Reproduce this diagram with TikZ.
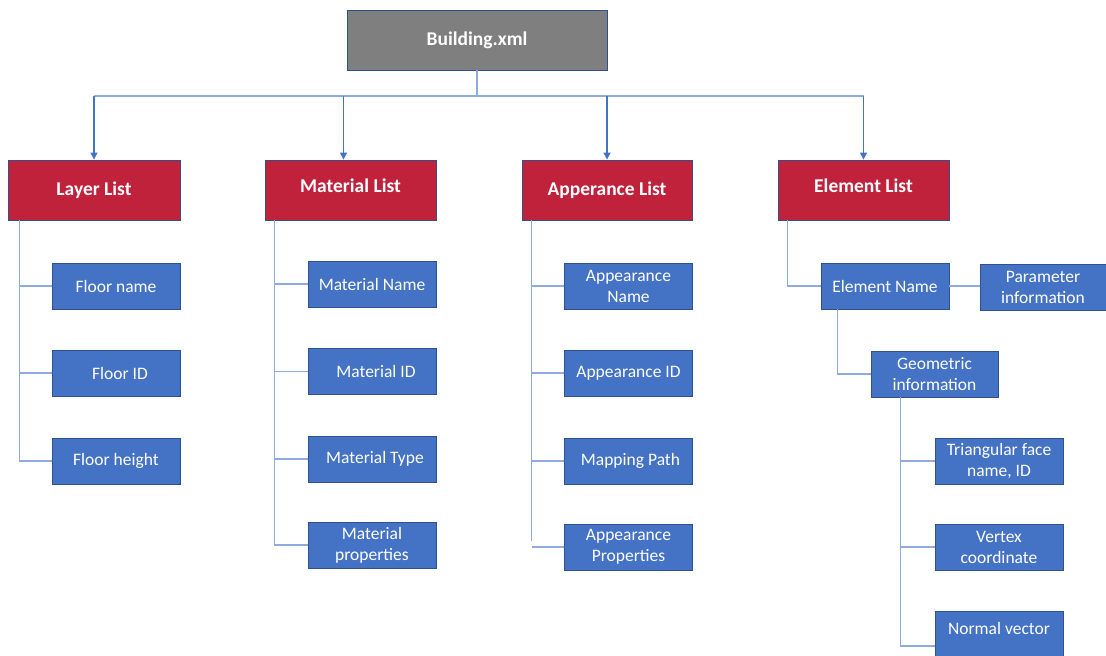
\documentclass[tikz,border=0pt]{standalone}
\usepackage{fontspec}
\setmainfont{Carlito}
\usetikzlibrary{arrows.meta}
\definecolor{boxblue}{HTML}{4472C4}
\definecolor{boxedge}{HTML}{2F528F}
\definecolor{boxred}{HTML}{C0213B}
\definecolor{boxgray}{HTML}{7F7F7F}
\definecolor{connc}{HTML}{8FAADC}
\definecolor{arrc}{HTML}{4472C4}
\begin{document}
\begin{tikzpicture}[x=1pt,y=-1pt,
  leaf/.style={draw=boxedge, line width=0.9pt, fill=boxblue, text=white,
    font=\fontsize{17.5}{21}\selectfont, align=center, inner sep=0pt,
    minimum width=128pt, minimum height=46pt},
  head/.style={draw=boxedge, line width=0.9pt, fill=boxred, text=white,
    font=\fontsize{19.5}{23}\selectfont\bfseries, align=center, inner sep=0pt,
    minimum width=171pt, minimum height=60pt},
  rootbox/.style={draw=boxedge, line width=0.9pt, fill=boxgray, text=white,
    font=\fontsize{19.5}{23}\selectfont\bfseries, align=center, inner sep=0pt,
    minimum width=260pt, minimum height=60pt},
  conn/.style={draw=connc, line width=1.1pt},
  arr/.style={draw=arrc, line width=1.1pt, -{Triangle[width=7pt,length=7pt]}}]
\useasboundingbox (0,0) rectangle (1106,656);
\begin{scope}
\clip (0,0) rectangle (1106,656);
% root
\node[rootbox] (root) at (477,40) {Building.xml};
% headers
\node[head, minimum width=172pt] (layer) at (94,190) {Layer List};
\node[head, text depth=8pt] (mat) at (350.5,190) {Material List};
\node[head, minimum width=170pt] (app) at (607,190) {Apperance List};
\node[head, text depth=8pt] (elem) at (863.5,190) {Element List};
% layer leaves
\node[leaf] (fn) at (116,286) {Floor name};
\node[leaf] (fid) at (116,373) {\hspace*{8pt}Floor ID};
\node[leaf] (fh) at (116,461) {Floor height};
% material leaves
\node[leaf] (mn) at (372,284) {Material Name};
\node[leaf] (mid) at (372,371.5) {\hspace*{8pt}Material ID};
\node[leaf] (mt) at (372,459) {\hspace*{6pt}Material Type};
\node[leaf] (mp) at (372,545) {Material\\properties};
% appearance leaves
\node[leaf] (an) at (628.5,286) {Appearance\\Name};
\node[leaf] (aid) at (628.5,373) {Appearance ID};
\node[leaf] (mpath) at (628.5,461) {\hspace*{4pt}Mapping Path};
\node[leaf] (ap) at (628.5,547) {Appearance\\Properties};
% element
\node[leaf] (en) at (885,286) {Element Name};
\node[leaf, minimum width=126pt] (pi) at (1043,287) {Parameter\\information};
\node[leaf, minimum width=127pt] (gi) at (934.5,374) {Geometric\\information};
\node[leaf] (tf) at (999,461) {Triangular face\\name, ID};
\node[leaf] (vc) at (999,547) {Vertex\\coordinate};
\node[leaf, minimum height=50pt, text depth=15pt] (nv) at (999,636) {Normal vector};
% bus
\coordinate (bus) at (477,96);
\draw[conn] (root.south) -- (bus);
\draw[conn] (layer.north |- bus) -- (elem.north |- bus);
\draw[arr] (layer.north |- bus) -- (layer.north);
\draw[arr] ([xshift=-7pt]mat.north |- bus) -- ([xshift=-7pt]mat.north);
\draw[arr] (app.north |- bus) -- (app.north);
\draw[arr] (elem.north |- bus) -- (elem.north);
% layer spine
\coordinate (ls) at ([xshift=12pt]layer.south west);
\draw[conn] (ls) |- (fh.west);
\draw[conn] (fn.west) -- (fn.west -| ls);
\draw[conn] (fid.west) -- (fid.west -| ls);
% material spine
\coordinate (ms) at ([xshift=10pt]mat.south west);
\draw[conn] (ms) |- (mp.west);
\draw[conn] (mn.west) -- (mn.west -| ms);
\draw[conn] (mid.west) -- (mid.west -| ms);
\draw[conn] (mt.west) -- (mt.west -| ms);
% appearance spine
\coordinate (as) at ([xshift=10pt]app.south west);
\coordinate (ase) at ([yshift=6pt]as |- ap.west);
\draw[conn] (as) -- (ase);
\draw[conn] (an.west) -- (an.west -| as);
\draw[conn] (aid.west) -- (aid.west -| as);
\draw[conn] (mpath.west) -- (mpath.west -| as);
\draw[conn] (ap.west) -- (ap.west -| as);
% element spine
\coordinate (es) at ([xshift=10pt]elem.south west);
\draw[conn] (es) |- (en.west);
\draw[conn] (en.east) -- (pi.west |- en.east);
\coordinate (ens) at ([xshift=17pt]en.south west);
\draw[conn] (ens) |- (gi.west);
\coordinate (gs) at ([xshift=30pt]gi.south west);
\draw[conn] (gs) |- ([yshift=-10pt]nv.west);
\draw[conn] (tf.west) -- (tf.west -| gs);
\draw[conn] (vc.west) -- (vc.west -| gs);
\end{scope}
\end{tikzpicture}
\end{document}
